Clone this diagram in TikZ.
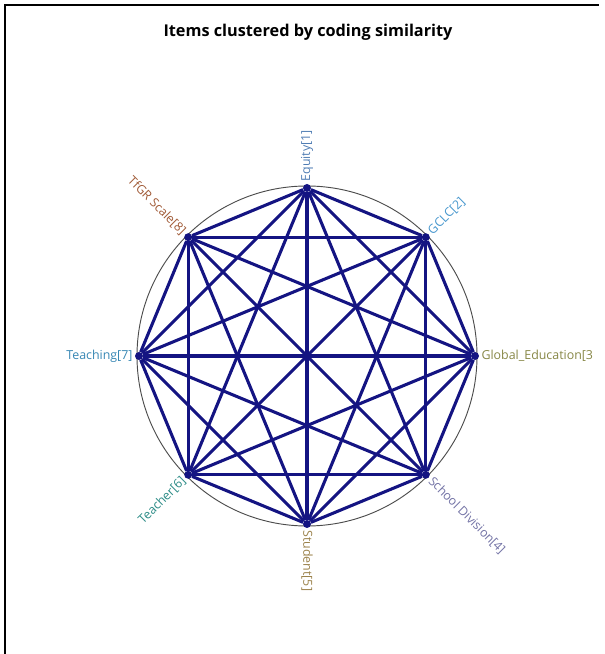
\documentclass[tikz,border=0pt]{standalone}
\usepackage{fontspec}
\setmainfont{Open Sans}

\definecolor{edgeblue}{RGB}{20,20,130}
\definecolor{cEquity}{RGB}{80,125,180}
\definecolor{cGCLC}{RGB}{70,150,205}
\definecolor{cGlobal}{RGB}{135,135,70}
\definecolor{cSchool}{RGB}{115,115,165}
\definecolor{cStudent}{RGB}{155,130,75}
\definecolor{cTeacher}{RGB}{45,140,135}
\definecolor{cTeaching}{RGB}{55,135,180}
\definecolor{cTfGR}{RGB}{160,90,55}

\begin{document}
\begin{tikzpicture}[x=0.75pt,y=0.75pt,
    edge/.style={draw=edgeblue, line width=2.3pt},
    dot/.style={circle, fill=edgeblue, inner sep=0pt, minimum size=6pt},
    lbl/.style={font=\fontsize{9.3}{11}\selectfont, inner sep=1.5pt}]
    \useasboundingbox (0,0) rectangle (605,654);

    % Cadre
    \draw[line width=1.4pt] (5,0) -- (5,649) -- (599,649);

    % Titre
    \node[font=\bfseries\fontsize{12.2}{14}\selectfont] (title) at (308,622) {Items clustered by coding similarity};

    % Cercle
    \coordinate (O) at (307,298);
    \draw[black!70, line width=0.7pt] (O) circle (170);

    % Points
    \foreach \i/\ang in {1/90, 2/45, 3/0, 4/-45, 5/-90, 6/-135, 7/180, 8/135}
        \node[dot] (n\i) at ([shift={(\ang:168)}]O) {};

    % Aretes
    \foreach \i in {1,...,7} {
        \pgfmathtruncatemacro\k{\i+1}
        \foreach \j in {\k,...,8}
            \draw[edge] (n\i) -- (n\j);
    }

    % Labels des points
    \foreach \i/\ang/\rot/\anc/\col/\txt in {
        1/90/90/west/cEquity/Equity[1],
        2/45/45/west/cGCLC/GCLC[2],
        3/0/0/west/cGlobal/Global\_Education[3,
        4/-45/-45/west/cSchool/School Division[4],
        5/-90/-90/west/cStudent/Student[5],
        6/-135/45/east/cTeacher/Teacher[6],
        7/180/0/east/cTeaching/Teaching[7],
        8/135/-45/east/cTfGR/TfGR Scale[8]}
        \node[lbl, text=\col, rotate=\rot, anchor=\anc] (l\i) at (n\i.\ang) {\txt};

\end{tikzpicture}
\end{document}
